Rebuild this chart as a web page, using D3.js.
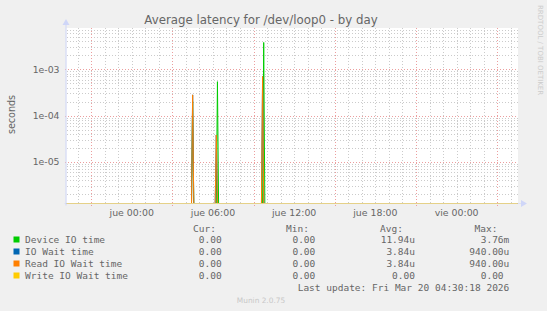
<!DOCTYPE html>
<html>
<head>
<meta charset="utf-8">
<script src="https://cdn.jsdelivr.net/npm/d3@7"></script>
<style>
  body { margin: 0; background: #F0F0F0; }
  svg { display: block; }
  text { fill: #666666; }
</style>
</head>
<body>
<div id="chart"></div>
<script>
// series definitions
var seriesNames = ["Device IO time", "IO Wait time", "Read IO Wait time", "Write IO Wait time"];
var seriesColors = ["#00CC00", "#0066B3", "#FF8000", "#FFCC00"];

// samples: [time, seconds]
var deviceIoTime = [
    ["2026-03-18 19:10", 0],
    ["2026-03-19 04:25", 0], ["2026-03-19 04:30", 2.0e-4], ["2026-03-19 04:35", 0],
    ["2026-03-19 06:15", 0], ["2026-03-19 06:20", 5.4e-4], ["2026-03-19 06:25", 0],
    ["2026-03-19 09:40", 0], ["2026-03-19 09:45", 3.8e-3], ["2026-03-19 09:50", 0],
    ["2026-03-20 04:30", 0]
];
var ioWaitTime = [
    ["2026-03-18 19:10", 0],
    ["2026-03-19 04:25", 0], ["2026-03-19 04:30", 2.8e-4], ["2026-03-19 04:35", 0],
    ["2026-03-19 06:10", 0], ["2026-03-19 06:15", 3.8e-5], ["2026-03-19 06:20", 0],
    ["2026-03-19 09:35", 0], ["2026-03-19 09:40", 7.0e-4], ["2026-03-19 09:45", 0],
    ["2026-03-20 04:30", 0]
];
var readIoWaitTime = [
    ["2026-03-18 19:10", 0],
    ["2026-03-19 04:25", 0], ["2026-03-19 04:30", 2.8e-4], ["2026-03-19 04:35", 0],
    ["2026-03-19 06:10", 0], ["2026-03-19 06:15", 3.8e-5], ["2026-03-19 06:20", 0],
    ["2026-03-19 09:35", 0], ["2026-03-19 09:40", 7.0e-4], ["2026-03-19 09:45", 0],
    ["2026-03-20 04:30", 0]
];
var writeIoWaitTime = [
    ["2026-03-18 19:10", 0],
    ["2026-03-20 04:30", 0]
];

// legend table
var curValues = ["0.00", "0.00", "0.00", "0.00"];
var minValues = ["0.00", "0.00", "0.00", "0.00"];
var avgValues = ["11.94u", "3.84u", "3.84u", "0.00"];
var maxValues = ["3.76m", "940.00u", "940.00u", "0.00 "];

var yTickValues = [1e-3, 1e-4, 1e-5];
var timeStart = "2026-03-18 19:11", timeEnd = "2026-03-20 04:32";
var lastUpdate = "Last update: Fri Mar 20 04:30:18 2026";

// constants
var W = 547, H = 311,
    plot = {left: 66.5, right: 518, top: 28, bottom: 203.5};

var parse = d3.timeParse("%Y-%m-%d %H:%M");
var es = d3.timeFormatLocale({
    dateTime: "%A, %e de %B de %Y, %X", date: "%d/%m/%Y", time: "%H:%M:%S",
    periods: ["AM", "PM"],
    days: ["domingo", "lunes", "martes", "miércoles", "jueves", "viernes", "sábado"],
    shortDays: ["dom", "lun", "mar", "mié", "jue", "vie", "sáb"],
    months: ["enero", "febrero", "marzo", "abril", "mayo", "junio", "julio", "agosto", "septiembre", "octubre", "noviembre", "diciembre"],
    shortMonths: ["ene", "feb", "mar", "abr", "may", "jun", "jul", "ago", "sep", "oct", "nov", "dic"]
});
var fmtTick = es.format("%a %H:%M");

var svg = d3.select("#chart").append("svg")
    .attr("width", W).attr("height", H);

svg.append("rect").attr("width", W).attr("height", H).attr("fill", "#F0F0F0");

var x = d3.scaleTime()
    .domain([parse(timeStart), parse(timeEnd)])
    .range([plot.left, plot.right]);

var y = d3.scaleLog()
    .domain([1.26e-6, 7.8e-3])
    .range([plot.bottom, plot.top]);
var yMin = y.domain()[0];

// canvas
svg.append("rect")
    .attr("x", plot.left).attr("y", plot.top)
    .attr("width", plot.right - plot.left).attr("height", plot.bottom - plot.top)
    .attr("fill", "#FFFFFF");

svg.append("clipPath").attr("id", "clip")
    .append("rect")
    .attr("x", plot.left).attr("y", plot.top)
    .attr("width", plot.right - plot.left).attr("height", plot.bottom - plot.top + 0.5);

var grid = svg.append("g").attr("shape-rendering", "crispEdges");
var minorColor = "#CBCBCB", majorColor = "#EC9E9E";

// minor horizontal grid (2..9 per decade)
var minorY = [];
[1e-6, 1e-5, 1e-4, 1e-3].forEach(function (dec) {
    for (var k = 2; k <= 9; k++) {
        var v = k * dec;
        if (v > y.domain()[0] && v < y.domain()[1]) minorY.push(v);
    }
});
grid.selectAll(".hminor").data(minorY).enter().append("line")
    .attr("x1", plot.left).attr("x2", plot.right)
    .attr("y1", function (d) { return Math.round(y(d)) + 0.5; })
    .attr("y2", function (d) { return Math.round(y(d)) + 0.5; })
    .attr("stroke", minorColor)
    .attr("stroke-dasharray", "1,2");

// vertical grid: every hour, red every 6h at 03/09/15/21
var hours = d3.timeHour.range(x.domain()[0], x.domain()[1]);
grid.selectAll(".vminor").data(hours.filter(function (d) { return d.getHours() % 6 !== 3; }))
    .enter().append("line")
    .attr("x1", function (d) { return Math.round(x(d)) + 0.5; })
    .attr("x2", function (d) { return Math.round(x(d)) + 0.5; })
    .attr("y1", plot.top).attr("y2", plot.bottom + 2)
    .attr("stroke", minorColor)
    .attr("stroke-dasharray", "1,2");

grid.selectAll(".hmajor").data(yTickValues).enter().append("line")
    .attr("x1", plot.left - 2).attr("x2", plot.right)
    .attr("y1", function (d) { return Math.round(y(d)) + 0.5; })
    .attr("y2", function (d) { return Math.round(y(d)) + 0.5; })
    .attr("stroke", majorColor)
    .attr("stroke-dasharray", "1,2");

grid.selectAll(".vmajor").data(hours.filter(function (d) { return d.getHours() % 6 === 3; }))
    .enter().append("line")
    .attr("x1", function (d) { return Math.round(x(d)) + 0.5; })
    .attr("x2", function (d) { return Math.round(x(d)) + 0.5; })
    .attr("y1", plot.top).attr("y2", plot.bottom + 3)
    .attr("stroke", majorColor)
    .attr("stroke-dasharray", "1,2");

// series lines
var line = d3.line()
    .x(function (d) { return x(parse(d[0])); })
    .y(function (d) { return y(Math.max(d[1], yMin)); });

var seriesData = [deviceIoTime, ioWaitTime, readIoWaitTime, writeIoWaitTime];
svg.append("g").attr("clip-path", "url(#clip)")
    .selectAll("path").data(seriesData).enter().append("path")
    .attr("d", line)
    .attr("fill", "none")
    .attr("stroke", function (d, i) { return seriesColors[i]; })
    .attr("stroke-width", 1);

// axes
var axisColor = "#CFD6F8";
svg.append("line")
    .attr("x1", plot.left - 0.5).attr("x2", plot.left - 0.5)
    .attr("y1", plot.bottom + 2).attr("y2", plot.top - 4)
    .attr("stroke", axisColor);
svg.append("path")
    .attr("d", "M" + (plot.left - 4) + "," + (plot.top - 3) + "L" + (plot.left - 0.5) + "," + (plot.top - 9) + "L" + (plot.left + 3) + "," + (plot.top - 3) + "Z")
    .attr("fill", axisColor);
svg.append("line")
    .attr("x1", plot.left - 2).attr("x2", plot.right + 4)
    .attr("y1", plot.bottom).attr("y2", plot.bottom)
    .attr("stroke", axisColor).attr("stroke-opacity", 0.55);
svg.append("path")
    .attr("d", "M" + (plot.right + 3) + "," + (plot.bottom - 3.5) + "L" + (plot.right + 9) + "," + plot.bottom + "L" + (plot.right + 3) + "," + (plot.bottom + 3.5) + "Z")
    .attr("fill", axisColor);

// y tick labels
svg.selectAll(".ylab").data(yTickValues).enter().append("text")
    .attr("x", 59.5)
    .attr("y", function (d) { return y(d) + 3.3; })
    .attr("text-anchor", "end")
    .style("font", "9.3px 'DejaVu Sans'")
    .text(function (d) { return d.toExponential(0).replace("e-", "e-0"); });

// x tick labels
var labelHours = hours.filter(function (d) { return d.getHours() % 6 === 0; });
svg.selectAll(".xlab").data(labelHours).enter().append("text")
    .attr("x", function (d) { return x(d); })
    .attr("y", 215.5)
    .attr("text-anchor", "middle")
    .style("font", "9.4px 'DejaVu Sans'")
    .text(function (d) { return fmtTick(d); });

// title and y label
svg.append("text")
    .attr("x", 261).attr("y", 23.5)
    .attr("text-anchor", "middle")
    .style("font", "11.8px 'DejaVu Sans'")
    .text("Average latency for /dev/loop0 - by day");

svg.append("text")
    .attr("transform", "translate(14.5,114.5) rotate(-90)")
    .attr("text-anchor", "middle")
    .style("font", "9.6px 'DejaVu Sans'")
    .text("seconds");

svg.append("text")
    .attr("transform", "translate(537.5,5) rotate(90)")
    .attr("text-anchor", "start")
    .style("font", "7px 'DejaVu Sans'")
    .style("fill", "#CCCCCC")
    .text("RRDTOOL / TOBI OETIKER");

// legend
var mono = "9.5px 'DejaVu Sans Mono'";
var heads = [["Cur:", 216], ["Min:", 309], ["Avg:", 403], ["Max:", 497.5]];
svg.selectAll(".head").data(heads).enter().append("text")
    .attr("x", function (d) { return d[1]; })
    .attr("y", 231.8)
    .attr("text-anchor", "end")
    .style("font", mono)
    .text(function (d) { return d[0]; });

var rows = svg.selectAll(".row").data(seriesNames).enter().append("g")
    .attr("transform", function (d, i) { return "translate(0," + (243 + i * 12) + ")"; });

rows.append("rect")
    .attr("x", 13.5).attr("y", -6.5)
    .attr("width", 6).attr("height", 6)
    .attr("fill", function (d, i) { return seriesColors[i]; });

rows.append("text")
    .attr("x", 25).attr("y", 0)
    .style("font", mono)
    .text(function (d) { return d; });

var cols = [[curValues, 221.7], [minValues, 315.3], [avgValues, 415], [maxValues, 509.3]];
cols.forEach(function (c) {
    rows.append("text")
        .attr("x", c[1]).attr("y", 0)
        .attr("text-anchor", "end")
        .attr("xml:space", "preserve")
        .style("font", mono)
        .style("white-space", "pre")
        .text(function (d, i) { return c[0][i]; });
});

svg.append("text")
    .attr("x", 509.3).attr("y", 290.8)
    .attr("text-anchor", "end")
    .style("font", mono)
    .text(lastUpdate);

svg.append("text")
    .attr("x", 261).attr("y", 303)
    .attr("text-anchor", "middle")
    .style("font", "7.4px 'DejaVu Sans'")
    .style("fill", "#C8C8C8")
    .text("Munin 2.0.75");
</script>
</body>
</html>
